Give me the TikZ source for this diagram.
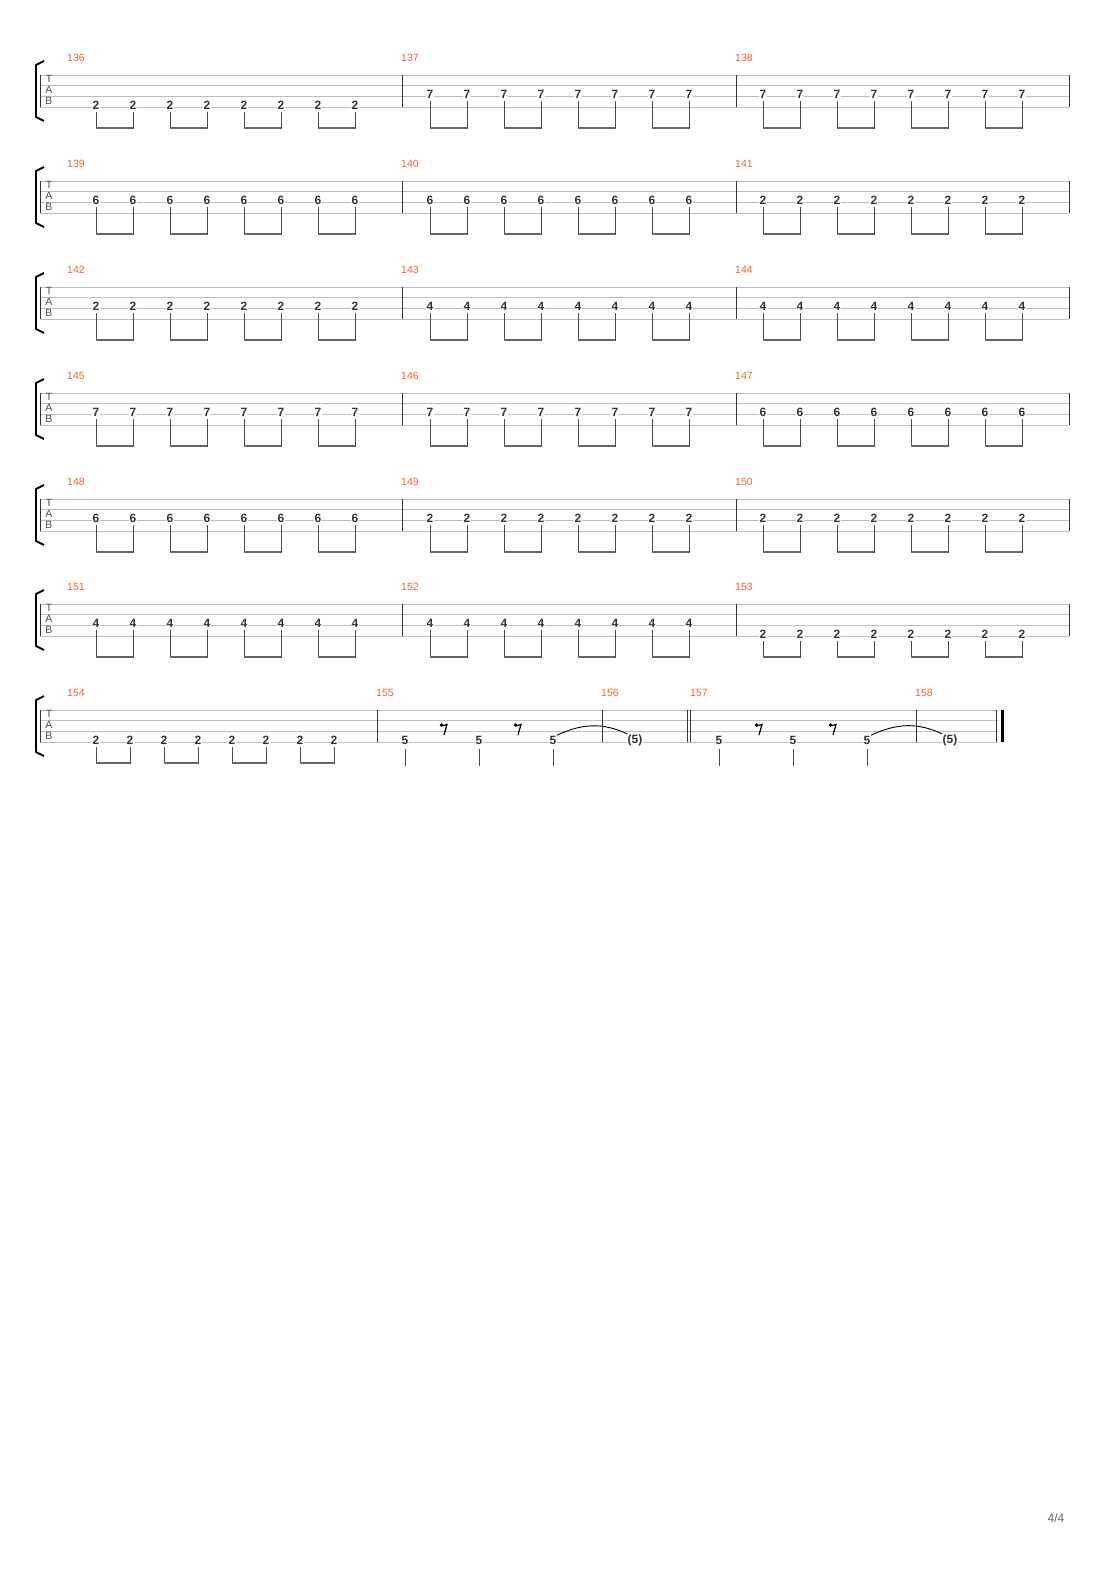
\documentclass[tikz,border=0pt]{standalone}
\usepackage{fontspec}
\setmainfont{Liberation Sans}
\usetikzlibrary{positioning}
\definecolor{barnum}{RGB}{240,100,50}
\definecolor{staffgray}{RGB}{190,190,190}
\tikzset{
  fret/.style={font=\bfseries\fontsize{12}{12}\selectfont, text=black!80, fill=white, inner sep=0.4pt},
  num/.style={font=\fontsize{10.5}{10}\selectfont, text=barnum, anchor=west, inner sep=0pt},
  tabletter/.style={font=\fontsize{10.5}{10}\selectfont, text=black!70, inner sep=0pt},
  stem/.style={draw=black!70, line width=0.6pt},
  beam/.style={draw=black!60, line width=2.4pt},
  staffline/.style={draw=staffgray, line width=0.6pt},
  barline/.style={draw=black!80, line width=0.8pt}
}
% staff: #1 = top y
\newcommand{\tabstaff}[2]{%
  \foreach \k in {0,1,2,3}
    \draw[staffline] (40,#1+\k*10.7) -- (#2,#1+\k*10.7);
  \draw[barline] (40,#1) -- (40,#1+32);
  \node[tabletter] at (49,#1+4) {T};
  \node[tabletter] at (49,#1+15) {A};
  \node[tabletter] at (49,#1+26) {B};
  \draw[line width=1.8pt] (44,#1-14) -- (36,#1-10) -- (36,#1+42) -- (44,#1+46);
}
% eight beamed notes: #1 top y, #2 first x, #3 string (2 or 3), #4 fret, #5 name
\newcommand{\eighths}[5]{%
  \foreach \i in {0,...,7} {
    \node[fret] (#5-\i) at (#2+\i*37,#1+#3*10.7-2) {#4};
    \draw[stem] ([yshift=-2pt]#5-\i.south) -- (#2+\i*37,#1+54);
  }
  \foreach \i in {0,2,4,6} {
    \pgfmathtruncatemacro{\j}{\i+1}
    \draw[beam] (#2+\i*37-0.3,#1+53) -- (#2+\j*37+0.3,#1+53);
  }
}
\newcommand{\eightrest}[2]{%
  \fill (#1-2.5,#2-4) circle (1.8);
  \draw[line width=1.2pt] (#1-3,#2-3) -- (#1+3,#2-4.5) -- (#1,#2+6);
}
\begin{document}
\begin{tikzpicture}[x=1pt,y=-1pt]
\useasboundingbox (0,0) rectangle (1110,1570);
% systems 1-6
\foreach \sy/\ma/\sa/\fa/\mb/\sb/\fb/\mc/\sc/\fc [count=\s from 0] in
  {75/136/3/2/137/2/7/138/2/7,
   181/139/2/6/140/2/6/141/2/2,
   287/142/2/2/143/2/4/144/2/4,
   393/145/2/7/146/2/7/147/2/6,
   499/148/2/6/149/2/2/150/2/2,
   604/151/2/4/152/2/4/153/3/2} {
  \tabstaff{\sy}{1069}
  \draw[barline] (402,\sy) -- (402,\sy+32);
  \draw[barline] (736,\sy) -- (736,\sy+32);
  \draw[barline] (1069,\sy) -- (1069,\sy+32);
  \node[num] (m\s a) at (67,\sy-17) {\ma};
  \node[num] (m\s b) at (401,\sy-17) {\mb};
  \node[num] (m\s c) at (735,\sy-17) {\mc};
  \eighths{\sy}{96}{\sa}{\fa}{n\s a}
  \eighths{\sy}{430}{\sb}{\fb}{n\s b}
  \eighths{\sy}{763}{\sc}{\fc}{n\s c}
}
% system 7
\tabstaff{710}{998}
\draw[barline] (377,710) -- (377,742);
\draw[barline] (602,710) -- (602,742);
\draw[barline] (687,710) -- (687,742);
\draw[barline] (690,710) -- (690,742);
\draw[barline] (916,710) -- (916,742);
\draw[barline] (996,710) -- (996,742);
\draw[line width=3pt] (1002,710) -- (1002,742);
\node[num] (m154) at (67,693) {154};
\node[num] (m155) at (376,693) {155};
\node[num] (m156) at (601,693) {156};
\node[num] (m157) at (690,693) {157};
\node[num] (m158) at (915,693) {158};
\foreach \i in {0,...,7} {
  \node[fret] (p\i) at (96+\i*34,740) {2};
  \draw[stem] ([yshift=-2pt]p\i.south) -- (96+\i*34,764);
}
\foreach \i in {0,2,4,6} {
  \pgfmathtruncatemacro{\j}{\i+1}
  \draw[beam] (96+\i*34-0.3,763) -- (96+\j*34+0.3,763);
}
\foreach \x [count=\i] in {405,479,553,719,793,867} {
  \node[fret] (q\i) at (\x,740) {5};
  \draw[stem] ([yshift=-4pt]q\i.south) -- (\x,766);
}
\foreach \x in {444,518,759,833} \eightrest{\x}{729}
\node[fret] (t1) at (635,740) {(5)};
\node[fret] (t2) at (950,740) {(5)};
\draw[line width=0.9pt] (q3.north east) to[out=25,in=155] (t1.north west);
\draw[line width=0.9pt] (q6.north east) to[out=25,in=155] (t2.north west);
\node[font=\fontsize{12}{12}\selectfont, text=black!60] (page) at (1056,1518) {4/4};
\end{tikzpicture}
\end{document}
